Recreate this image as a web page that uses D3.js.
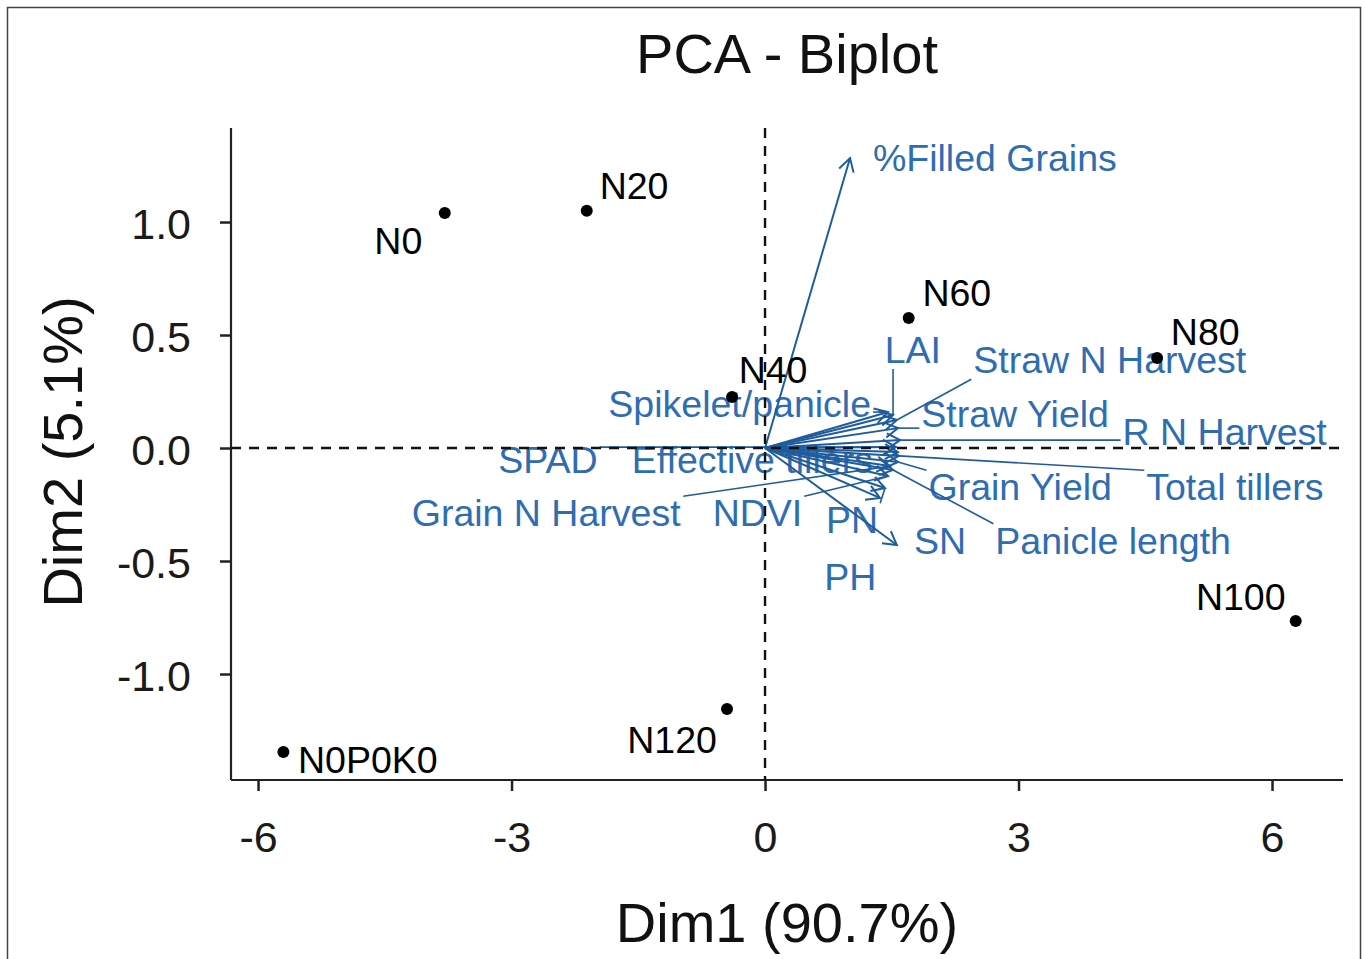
<!DOCTYPE html>
<html><head><meta charset="utf-8">
<script src="https://cdn.jsdelivr.net/npm/d3@7"></script>
<style>body{margin:0;background:#fff}svg{display:block;font-family:"Liberation Sans",Arial,sans-serif}</style>
</head><body><svg id="chart" width="1365" height="959"></svg>
<script>
// Individuals (treatments)
const indNames = ["N0","N20","N40","N60","N80","N100","N120","N0P0K0"];
const indDim1  = [-3.79,-2.11,-0.39,1.70,4.64,6.28,-0.45,-5.70];
const indDim2  = [1.04,1.05,0.226,0.575,0.398,-0.765,-1.155,-1.345];
// repelled label positions (data units)
const indLabX  = [-4.34,-1.55,0.095,2.27,5.21,5.63,-1.10,-4.70];
const indLabY  = [0.916,1.159,0.345,0.686,0.512,-0.659,-1.292,-1.381];

// Variables (arrows)
const varNames = ["%Filled Grains","LAI","Straw N Harvest","Spikelet/panicle","Straw Yield","R N Harvest","SPAD","Effective tillers","Grain N Harvest","NDVI","Grain Yield","Total tillers","PN","SN","Panicle length","PH"];
const varDim1  = [1.006,1.515,1.56,1.456,1.574,1.60,1.55,1.574,1.48,1.456,1.574,1.586,1.42,1.56,1.515,1.36];
const varDim2  = [1.283,0.146,0.124,0.159,0.088,0.035,0.004,-0.018,-0.08,-0.124,-0.062,-0.035,-0.177,-0.429,-0.097,-0.221];
const varLabX  = [2.72,1.75,4.08,-0.30,2.96,5.44,-2.57,-0.15,-2.59,-0.09,3.02,5.56,1.03,2.07,4.12,1.01];
const varLabY  = [1.283,0.434,0.389,0.195,0.150,0.071,-0.053,-0.053,-0.288,-0.288,-0.173,-0.173,-0.319,-0.41,-0.41,-0.571];
// whether a repel segment joins label and arrow tip in the reference
const varHasSegment = [false,true,true,true,true,true,true,false,true,true,true,true,true,false,true,false];

const xTicks = [-6,-3,0,3,6];
const yTicks = [-1.0,-0.5,0.0,0.5,1.0];
const titleText = "PCA - Biplot";
const xTitle = "Dim1 (90.7%)";
const yTitle = "Dim2 (5.1%)";

const svg = d3.select("#chart");
const x = d3.scaleLinear().domain([-6.32,6.84]).range([231,1343]);
const y = d3.scaleLinear().domain([-1.469,1.416]).range([780,128]);
const blueLine = "#1f5c9c", blueText = "#2f6db2";

// outer frame
svg.append("rect").attr("x",7.5).attr("y",7.5).attr("width",1353).attr("height",970)
  .attr("fill","none").attr("stroke","#444").attr("stroke-width",1.5);

// title
svg.append("text").attr("x",787).attr("y",73).attr("text-anchor","middle")
  .attr("font-size",56).attr("fill","#111").text(titleText);

// axes
const xAxis = d3.axisBottom(x).tickValues(xTicks).tickFormat(d => String(d)).tickSizeOuter(0).tickSize(11).tickPadding(30);
const gx = svg.append("g").attr("transform","translate(0,780)").call(xAxis);
gx.select(".domain").attr("d","M231,0H1343").attr("stroke","#222").attr("stroke-width",2.2);
gx.selectAll(".tick line").attr("stroke","#222").attr("stroke-width",2.5);
gx.selectAll(".tick text").attr("font-size",43).attr("fill","#1a1a1a").attr("font-family","Liberation Sans, Arial, sans-serif");

const yAxis = d3.axisLeft(y).tickValues(yTicks).tickFormat(d => d.toFixed(1)).tickSizeOuter(0).tickSize(11).tickPadding(29);
const gy = svg.append("g").attr("transform","translate(231,0)").call(yAxis);
gy.select(".domain").attr("d","M0,128V780").attr("stroke","#222").attr("stroke-width",2.2);
gy.selectAll(".tick line").attr("stroke","#222").attr("stroke-width",2.5);
gy.selectAll(".tick text").attr("font-size",43).attr("fill","#1a1a1a").attr("dy","0.38em").attr("font-family","Liberation Sans, Arial, sans-serif");

// axis titles
svg.append("text").attr("x",787).attr("y",942).attr("text-anchor","middle")
  .attr("font-size",56).attr("fill","#111").text(xTitle);
svg.append("text").attr("transform","translate(82,452) rotate(-90)").attr("text-anchor","middle")
  .attr("font-size",56).attr("fill","#111").text(yTitle);

// variable labels
const vl = svg.append("g");
const labelNodes = varNames.map((n,i) =>
  vl.append("text").attr("x",x(varLabX[i])).attr("y",y(varLabY[i])).attr("dy","0.35em")
    .attr("text-anchor","middle").attr("font-size",37.5).attr("fill",blueText).text(n));

// repel segments from labels to arrow tips
varNames.forEach((n,i) => {
  if (!varHasSegment[i]) return;
  const b = labelNodes[i].node().getBBox();
  const tx = x(varDim1[i]), ty = y(varDim2[i]);
  const x0=b.x-2, x1=b.x+b.width+2, y0=b.y+4, y1=b.y+b.height-2;
  const cx = Math.max(x0, Math.min(x1, tx)), cy = Math.max(y0, Math.min(y1, ty));
  vl.append("line").attr("x1",cx).attr("y1",cy).attr("x2",tx).attr("y2",ty)
    .attr("stroke",blueLine).attr("stroke-width",1.6);
});

// arrows
const ga = svg.append("g");
const ox = x(0), oy = y(0);
varNames.forEach((n,i) => {
  const tx = x(varDim1[i]), ty = y(varDim2[i]);
  ga.append("line").attr("x1",ox).attr("y1",oy).attr("x2",tx).attr("y2",ty)
    .attr("stroke",blueLine).attr("stroke-width",2);
  const ang = Math.atan2(ty-oy, tx-ox), L = 15, a = Math.PI/6;
  const p1 = [tx - L*Math.cos(ang-a), ty - L*Math.sin(ang-a)];
  const p2 = [tx - L*Math.cos(ang+a), ty - L*Math.sin(ang+a)];
  ga.append("path").attr("d",`M${p1[0]},${p1[1]}L${tx},${ty}L${p2[0]},${p2[1]}`)
    .attr("fill","none").attr("stroke",blueLine).attr("stroke-width",2);
});

// reference dashed lines
svg.append("line").attr("x1",231).attr("x2",1343).attr("y1",y(0)).attr("y2",y(0))
  .attr("stroke","#111").attr("stroke-width",2.4).attr("stroke-dasharray","10,8");
svg.append("line").attr("x1",x(0)).attr("x2",x(0)).attr("y1",128).attr("y2",780)
  .attr("stroke","#111").attr("stroke-width",2.4).attr("stroke-dasharray","10,8");

// individuals
svg.append("g").selectAll("circle").data(indNames).join("circle")
  .attr("cx",(d,i)=>x(indDim1[i])).attr("cy",(d,i)=>y(indDim2[i])).attr("r",6).attr("fill","#000");
svg.append("g").selectAll("text").data(indNames).join("text")
  .attr("x",(d,i)=>x(indLabX[i])).attr("y",(d,i)=>y(indLabY[i])).attr("dy","0.35em")
  .attr("text-anchor","middle").attr("font-size",37.5).attr("fill","#000").text(d=>d);
</script></body></html>
